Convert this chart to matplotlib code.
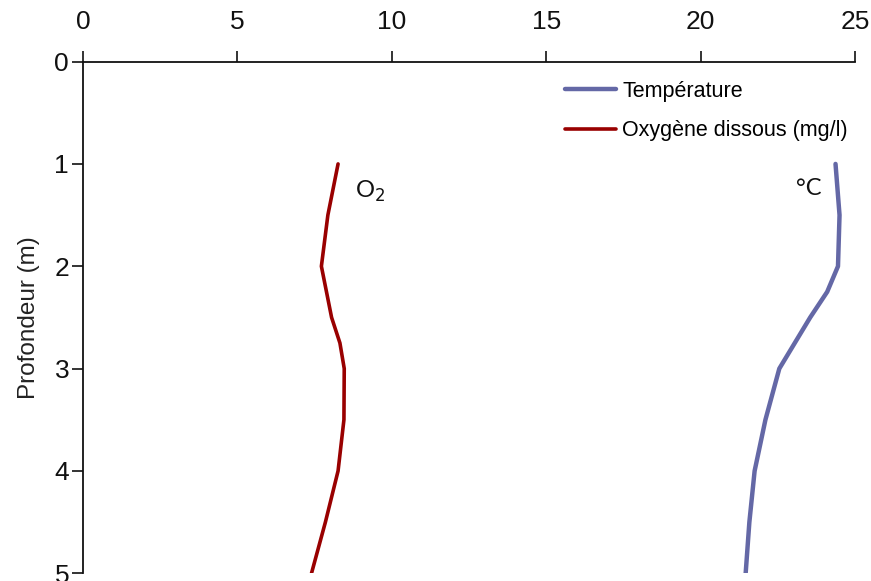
import matplotlib.pyplot as plt

# depth profiles
depth_temp = [1, 1.5, 2, 2.25, 2.5, 3, 3.5, 4, 4.5, 5]
temperature = [24.37, 24.5, 24.45, 24.1, 23.55, 22.55, 22.1, 21.75, 21.58, 21.46]

depth_o2 = [1, 1.5, 2, 2.5, 2.75, 3, 3.5, 4, 4.5, 5]
oxygen = [8.26, 7.93, 7.72, 8.05, 8.32, 8.46, 8.45, 8.26, 7.85, 7.40]

x_ticks = [0, 5, 10, 15, 20, 25]
y_ticks = [0, 1, 2, 3, 4, 5]

plt.rcParams['font.family'] = ['Liberation Sans', 'DejaVu Sans']

fig = plt.figure(figsize=(8.71, 5.81), dpi=100)
ax = fig.add_axes([0.0953, 0.0133, 0.8863, 0.8807])

ax.plot(temperature, depth_temp, color='#6468A6', linewidth=3.2, label='Température',
        solid_capstyle='round')
ax.plot(oxygen, depth_o2, color='#990000', linewidth=2.6, label='Oxygène dissous (mg/l)',
        solid_capstyle='round')

ax.set_xlim(0, 25)
ax.set_ylim(5, 0)
ax.set_xticks(x_ticks)
ax.set_yticks(y_ticks)
ax.xaxis.tick_top()
ax.tick_params(axis='both', direction='out', length=8, width=1.2, labelsize=19,
               colors='#111111')
ax.tick_params(axis='x', pad=12)
ax.tick_params(axis='y', pad=2)

for side in ['right', 'bottom']:
    ax.spines[side].set_visible(False)
for side in ['left', 'top']:
    ax.spines[side].set_linewidth(1.3)
    ax.spines[side].set_color('#111111')

ax.set_ylabel('Profondeur (m)', fontsize=17.5, labelpad=10, color='#222222')

ax.text(8.8, 1.33, 'O$_2$', fontsize=17, family='Lato', color='#111111')
ax.text(23.1, 1.30, '°C', fontsize=17, family='Lato', color='#111111')

ax.legend(loc='upper right', bbox_to_anchor=(1.016, 1.0), frameon=False, fontsize=15.5,
          handlelength=2.35, handletextpad=0.3, labelspacing=0.85)

fig.savefig('out.png', dpi=100)
